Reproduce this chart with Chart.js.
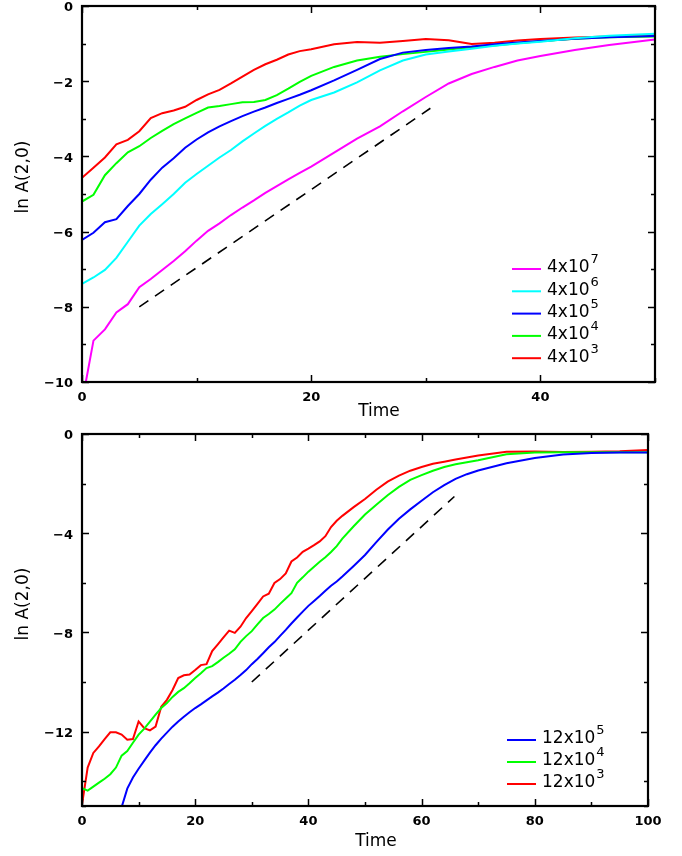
<!DOCTYPE html>
<html>
<head>
<meta charset="utf-8">
<script src="https://cdn.jsdelivr.net/npm/chart.js@4/dist/chart.umd.min.js"></script>
<style>
  body { margin: 0; background: #fff; }
  canvas { display: block; }
</style>
</head>
<body>
<canvas id="topChart" width="682" height="428"></canvas>
<canvas id="bottomChart" width="682" height="428"></canvas>
<script>
// ---- top panel data ----
const timeTop = [0,1,2,3,4,5,6,7,8,9,10,11,12,13,14,15,16,17,18,19,20,
  22,24,26,28,30,32,34,36,38,40, 43,46,50];
const top4e7 = [-10.55,-8.90,-8.60,-8.15,-7.93,-7.48,-7.26,-7.02,-6.78,-6.52,-6.24,-5.98,-5.78,-5.56,-5.36,-5.17,-4.97,-4.79,-4.61,-4.44,-4.27,
  -3.90,-3.53,-3.20,-2.80,-2.42,-2.06,-1.81,-1.62,-1.45,-1.33, -1.17,-1.04,-0.89];
const top4e6 = [-7.39,-7.22,-7.02,-6.70,-6.27,-5.84,-5.53,-5.27,-5.00,-4.70,-4.47,-4.25,-4.03,-3.83,-3.60,-3.39,-3.19,-3.00,-2.83,-2.65,-2.50,
  -2.30,-2.03,-1.71,-1.45,-1.29,-1.21,-1.14,-1.06,-1.00,-0.95, -0.86,-0.79,-0.74];
const top4e5 = [-6.22,-6.03,-5.75,-5.67,-5.32,-5.00,-4.62,-4.30,-4.05,-3.77,-3.55,-3.36,-3.20,-3.06,-2.93,-2.81,-2.70,-2.58,-2.47,-2.36,-2.24,
  -1.98,-1.70,-1.41,-1.24,-1.17,-1.12,-1.08,-1.02,-0.97,-0.93, -0.87,-0.83,-0.80];
const top4e4 = [-5.20,-5.02,-4.50,-4.18,-3.89,-3.73,-3.51,-3.32,-3.14,-2.99,-2.84,-2.70,-2.66,-2.61,-2.56,-2.55,-2.50,-2.37,-2.20,-2.02,-1.86,
  -1.62,-1.45,-1.35,-1.28,-1.22,-1.16,-1.10,-1.05,-0.99,-0.94, -0.87,-0.83,-0.81];
const top4e3 = [-4.57,-4.30,-4.03,-3.68,-3.56,-3.33,-2.98,-2.85,-2.78,-2.68,-2.50,-2.35,-2.23,-2.06,-1.88,-1.70,-1.55,-1.43,-1.29,-1.20,-1.15,
  -1.02,-0.96,-0.98,-0.93,-0.88,-0.91,-1.01,-0.98,-0.92,-0.88, -0.84,-0.81,-0.78];
const dashTopTime = [5, 30.4];
const dashTopVal = [-8.0, -2.72];
const legendTop = [['4x10', '7'], ['4x10', '6'], ['4x10', '5'], ['4x10', '4'], ['4x10', '3']];

// ---- bottom panel data ----
const timeBottom = [0,1,2,3,4,5,6,7,8,9,10,11,12,13,14,15,16,17,18,19,20,21,22,23,24,25,26,27,28,29,30,
  31,32,33,34,35,36,37,38,39,40,41,42,43,44,45,46,
  48,50,52,54,56,58,60,62,64,66,68,70, 75,80,85,90,95,100];
const bot12e5 = [null,null,null,null,null,null,null,-15.05,-14.30,-13.85,-13.50,-13.17,-12.85,-12.55,-12.28,-12.04,-11.80,-11.59,-11.40,-11.22,-11.05,
  -10.90,-10.74,-10.58,-10.43,-10.26,-10.08,-9.91,-9.72,-9.52,-9.28,-9.07,-8.84,-8.60,-8.39,-8.14,-7.90,-7.64,-7.40,-7.16,-6.93,
  -6.73,-6.53,-6.32,-6.12,-5.95,-5.75,
  -5.32,-4.88,-4.36,-3.86,-3.42,-3.04,-2.69,-2.35,-2.06,-1.81,-1.62,-1.47, -1.18,-0.97,-0.83,-0.77,-0.75,-0.75];
const bot12e4 = [-14.28,-14.38,-14.22,-14.06,-13.90,-13.72,-13.45,-12.97,-12.78,-12.45,-12.12,-11.88,-11.60,-11.32,-11.05,-10.85,-10.60,-10.40,-10.25,-10.05,-9.84,
  -9.65,-9.44,-9.36,-9.20,-9.02,-8.86,-8.68,-8.38,-8.15,-7.95,-7.68,-7.42,-7.26,-7.08,-6.85,-6.63,-6.42,-6.00,-5.78,-5.55,
  -5.35,-5.15,-4.97,-4.76,-4.52,-4.22,
  -3.72,-3.25,-2.85,-2.47,-2.13,-1.85,-1.66,-1.48,-1.33,-1.22,-1.14,-1.06, -0.82,-0.75,-0.74,-0.74,-0.74,-0.74];
const bot12e3 = [-14.94,-13.45,-12.86,-12.60,-12.30,-12.03,-12.03,-12.12,-12.33,-12.30,-11.59,-11.86,-11.95,-11.80,-11.00,-10.72,-10.32,-9.84,-9.73,-9.70,-9.52,
  -9.32,-9.28,-8.75,-8.48,-8.20,-7.93,-8.02,-7.77,-7.42,-7.14,-6.85,-6.55,-6.44,-6.01,-5.85,-5.62,-5.14,-4.98,-4.75,-4.62,
  -4.48,-4.33,-4.12,-3.75,-3.50,-3.30,
  -2.95,-2.62,-2.25,-1.92,-1.68,-1.48,-1.33,-1.20,-1.12,-1.03,-0.95,-0.87, -0.72,-0.71,-0.73,-0.72,-0.70,-0.65];
const dashBotTime = [30, 65.8];
const dashBotVal = [-10.0, -2.52];
const legendBottom = [['12x10', '5'], ['12x10', '4'], ['12x10', '3']];

const MAGENTA = '#ff00ff', CYAN = '#00ffff', BLUE = '#0000ff', GREEN = '#00ff00', RED = '#ff0000';

function pts(xs, ys) {
  return xs.map((x, i) => ({ x: x, y: ys[i] }));
}

function line(xs, ys, color) {
  return { data: pts(xs, ys), borderColor: color, borderWidth: 2, pointRadius: 0, tension: 0, fill: false };
}

function dashed(xs, ys) {
  return { data: pts(xs, ys), borderColor: '#000', borderWidth: 1.6, borderDash: [11, 8], pointRadius: 0, fill: false };
}

function minus(v) {
  return v < 0 ? '\u2212' + Math.abs(v) : String(v);
}

// frame, inward ticks, axis titles and legend
const framePlugin = {
  id: 'frame',
  afterDraw(chart, args, opts) {
    const ctx = chart.ctx;
    const a = chart.chartArea;
    const xs = chart.scales.x, ys = chart.scales.y;
    ctx.save();
    ctx.strokeStyle = '#000';
    ctx.lineWidth = 1.5;
    ctx.beginPath();
    xs.ticks.forEach(t => {
      const px = Math.round(xs.getPixelForValue(t.value)) + 0.5;
      const len = t.label ? 7 : 4;
      ctx.moveTo(px, a.bottom); ctx.lineTo(px, a.bottom - len);
      ctx.moveTo(px, a.top); ctx.lineTo(px, a.top + len);
    });
    ys.ticks.forEach(t => {
      const py = Math.round(ys.getPixelForValue(t.value)) + 0.5;
      const len = t.label ? 7 : 4;
      ctx.moveTo(a.left, py); ctx.lineTo(a.left + len, py);
      ctx.moveTo(a.right, py); ctx.lineTo(a.right - len, py);
    });
    ctx.stroke();
    ctx.lineWidth = 2.2;
    ctx.strokeRect(a.left, a.top, a.right - a.left, a.bottom - a.top);

    // axis titles
    ctx.fillStyle = '#000';
    ctx.font = '17px "DejaVu Sans"';
    ctx.textAlign = 'center';
    ctx.textBaseline = 'middle';
    ctx.fillText('Time', opts.xTitle[0], opts.xTitle[1]);
    ctx.save();
    ctx.translate(opts.yTitle[0], opts.yTitle[1]);
    ctx.rotate(-Math.PI / 2);
    ctx.fillText('ln A(2,0)', 0, 0);
    ctx.restore();

    // legend
    ctx.textAlign = 'left';
    opts.legend.forEach((item, i) => {
      const y = opts.legendY + i * opts.legendStep;
      ctx.strokeStyle = opts.legendColors[i];
      ctx.lineWidth = 2;
      ctx.beginPath();
      ctx.moveTo(opts.legendX, y);
      ctx.lineTo(opts.legendX + 29, y);
      ctx.stroke();
      ctx.font = '17px "DejaVu Sans"';
      ctx.fillText(item[0], opts.legendX + 35, y - 1);
      const w = ctx.measureText(item[0]).width;
      ctx.font = '13px "DejaVu Sans"';
      ctx.fillText(item[1], opts.legendX + 35 + w + 1, y - 9);
    });
    ctx.restore();
  }
};

function makeOptions(xMax, yMin, yStep, yMajor, rightPad, xHeight, frameOpts) {
  return {
    responsive: false,
    animation: false,
    devicePixelRatio: 1,
    layout: { padding: { top: 6, right: rightPad, left: 0, bottom: 0 } },
    plugins: { legend: { display: false }, tooltip: { enabled: false }, frame: frameOpts },
    scales: {
      x: {
        type: 'linear', min: 0, max: xMax,
        grid: { display: false, drawTicks: false },
        border: { display: false },
        afterFit: s => { s.height = xHeight; s.paddingLeft = 0; s.paddingRight = 0; },
        ticks: {
          stepSize: 10, padding: 8, maxRotation: 0, autoSkip: false,
          color: '#000', font: { family: 'DejaVu Sans', size: 13, weight: 'bold' },
          callback: v => (v % 20 === 0 ? String(v) : '')
        }
      },
      y: {
        type: 'linear', min: yMin, max: 0,
        grid: { display: false, drawTicks: false },
        border: { display: false },
        afterFit: s => { s.width = 82; s.paddingTop = 0; s.paddingBottom = 0; },
        ticks: {
          stepSize: yStep, padding: 9, autoSkip: false, labelOffset: 2,
          color: '#000', font: { family: 'DejaVu Sans', size: 13, weight: 'bold' },
          callback: v => (v % yMajor === 0 ? minus(v) : '')
        }
      }
    }
  };
}

new Chart(document.getElementById('topChart'), {
  type: 'line',
  data: {
    datasets: [
      line(timeTop, top4e7, MAGENTA),
      line(timeTop, top4e6, CYAN),
      line(timeTop, top4e5, BLUE),
      line(timeTop, top4e4, GREEN),
      line(timeTop, top4e3, RED),
      dashed(dashTopTime, dashTopVal)
    ]
  },
  options: makeOptions(50, -10, 1, 2, 27, 46, {
    xTitle: [379, 412], yTitle: [24, 177],
    legend: legendTop, legendColors: [MAGENTA, CYAN, BLUE, GREEN, RED],
    legendX: 512, legendY: 269, legendStep: 22.3
  }),
  plugins: [framePlugin]
});

new Chart(document.getElementById('bottomChart'), {
  type: 'line',
  data: {
    datasets: [
      line(timeBottom, bot12e5, BLUE),
      line(timeBottom, bot12e4, GREEN),
      line(timeBottom, bot12e3, RED),
      dashed(dashBotTime, dashBotVal)
    ]
  },
  options: makeOptions(100, -15, 2, 4, 34, 50, {
    xTitle: [376, 414], yTitle: [24, 176],
    legend: legendBottom, legendColors: [BLUE, GREEN, RED],
    legendX: 507, legendY: 312, legendStep: 22
  }),
  plugins: [framePlugin]
});
</script>
</body>
</html>
